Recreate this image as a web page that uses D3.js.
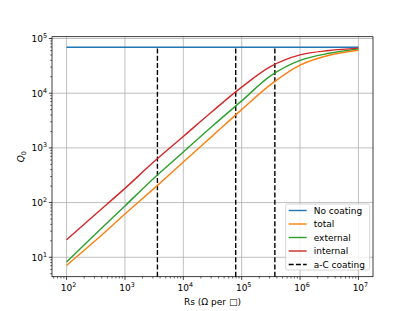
<!DOCTYPE html>
<html>
<head>
  <meta charset="utf-8">
  <script src="https://d3js.org/d3.v7.min.js"></script>
  <style>
    body { margin: 0; background: #fff; font-family: 'DejaVu Sans', sans-serif; }
  </style>
</head>
<body>
<div id="my_dataviz"></div>
<script>
// values
var rs       = [100, 316, 1000, 3162, 10000, 31623, 100000, 316228, 1000000, 3162278, 10000000];
var qTotal   = [7.1, 20.4, 61.7, 182, 550, 1660, 5010, 14500, 32700, 49500, 61000];
var qExt     = [8.2, 27, 87, 282, 841, 2510, 7240, 20900, 39800, 53700, 64600];
var qInt     = [21, 62, 182, 562, 1620, 4680, 12900, 30900, 50100, 60300, 66800];
var noCoatRs = [100, 10000000];
var noCoatQ  = [69000, 69000];
var coatingRs = [3600, 79000, 370000];
var xExp = [2, 3, 4, 5, 6, 7];
var yExp = [1, 2, 3, 4, 5];

var margin = {top: 36.7, right: 42, bottom: 34.3, left: 52},
    W = 415, H = 311,
    width = W - margin.left - margin.right,
    height = H - margin.top - margin.bottom;

var svg = d3.select("#my_dataviz").append("svg")
  .attr("width", W).attr("height", H)
  .append("g")
  .attr("transform", "translate(" + margin.left + "," + margin.top + ")");

var x = d3.scaleLog().domain([Math.pow(10, 1.75), Math.pow(10, 7.25)]).range([0, width]);
var y = d3.scaleLog().domain([Math.pow(10, 0.645), Math.pow(10, 5.033)]).range([height, 0]);

// grid
svg.selectAll(".gx").data(xExp).enter().append("line")
  .attr("x1", d => x(Math.pow(10, d))).attr("x2", d => x(Math.pow(10, d)))
  .attr("y1", 0).attr("y2", height)
  .attr("stroke", "#b0b0b0").attr("stroke-width", 0.8);
svg.selectAll(".gy").data(yExp).enter().append("line")
  .attr("y1", d => y(Math.pow(10, d))).attr("y2", d => y(Math.pow(10, d)))
  .attr("x1", 0).attr("x2", width)
  .attr("stroke", "#b0b0b0").attr("stroke-width", 0.8);

// lines
var line = d3.line()
  .x(function (d) { return x(d[0]); })
  .y(function (d) { return y(d[1]); })
  .curve(d3.curveCatmullRom.alpha(0.5));

var series = [
  {name: "No coating", color: "#1f77b4", xs: noCoatRs, ys: noCoatQ},
  {name: "total", color: "#ff7f0e", xs: rs, ys: qTotal},
  {name: "external", color: "#2ca02c", xs: rs, ys: qExt},
  {name: "internal", color: "#d62728", xs: rs, ys: qInt}
];

var plot = svg.append("g");
plot.append("path").datum(d3.zip(noCoatRs, noCoatQ))
  .attr("d", line).attr("fill", "none").attr("stroke", "#1f77b4").attr("stroke-width", 1.4);

// coating markers
plot.selectAll(".vl").data(coatingRs).enter().append("line")
  .attr("x1", d => x(d)).attr("x2", d => x(d))
  .attr("y1", height).attr("y2", y(noCoatQ[0]))
  .attr("stroke", "#000").attr("stroke-width", 1.4)
  .attr("stroke-dasharray", "5,2.2");

series.slice(1).forEach(function (s) {
  plot.append("path").datum(d3.zip(s.xs, s.ys))
    .attr("d", line).attr("fill", "none")
    .attr("stroke", s.color).attr("stroke-width", 1.4);
});

// minor ticks
var xMinor = [], yMinor = [];
for (var e = 1; e <= 7; e++) for (var m = 2; m <= 9; m++) {
  var v = m * Math.pow(10, e);
  if (v > x.domain()[0] && v < x.domain()[1]) xMinor.push(v);
}
for (var e = 0; e <= 5; e++) for (var m = 2; m <= 9; m++) {
  var v = m * Math.pow(10, e);
  if (v > y.domain()[0] && v < y.domain()[1]) yMinor.push(v);
}
svg.selectAll(".mx").data(xMinor).enter().append("line")
  .attr("x1", d => x(d)).attr("x2", d => x(d))
  .attr("y1", height).attr("y2", height + 1.8)
  .attr("stroke", "#000").attr("stroke-width", 0.6);
svg.selectAll(".my").data(yMinor).enter().append("line")
  .attr("y1", d => y(d)).attr("y2", d => y(d))
  .attr("x1", 0).attr("x2", -1.8)
  .attr("stroke", "#000").attr("stroke-width", 0.6);

// major ticks and labels
svg.selectAll(".tx").data(xExp).enter().append("line")
  .attr("x1", d => x(Math.pow(10, d))).attr("x2", d => x(Math.pow(10, d)))
  .attr("y1", height).attr("y2", height + 3.2)
  .attr("stroke", "#000").attr("stroke-width", 0.75);
svg.selectAll(".ty").data(yExp).enter().append("line")
  .attr("y1", d => y(Math.pow(10, d))).attr("y2", d => y(Math.pow(10, d)))
  .attr("x1", 0).attr("x2", -3.2)
  .attr("stroke", "#000").attr("stroke-width", 0.75);

function powLabel(sel) {
  sel.append("tspan").text("10");
  sel.append("tspan").attr("dy", -4).attr("font-size", 6.4).text(d => d);
}
svg.selectAll(".lx").data(xExp).enter().append("text")
  .attr("x", d => x(Math.pow(10, d)) + 2).attr("y", height + 14)
  .attr("text-anchor", "middle").attr("font-size", 9).attr("fill", "#000")
  .call(powLabel);
svg.selectAll(".ly").data(yExp).enter().append("text")
  .attr("x", -5).attr("y", d => y(Math.pow(10, d)) + 3.5)
  .attr("text-anchor", "end").attr("font-size", 9).attr("fill", "#000")
  .call(powLabel);

// frame
svg.append("rect").attr("width", width).attr("height", height)
  .attr("fill", "none").attr("stroke", "#000").attr("stroke-width", 0.75);

// axis titles
svg.append("text")
  .attr("x", width / 2).attr("y", height + 28)
  .attr("text-anchor", "middle").attr("font-size", 9)
  .text("Rs (\u03A9 per \u25A1)");
var yl = svg.append("text")
  .attr("transform", "translate(" + (-28) + "," + (height / 2) + ") rotate(-90)")
  .attr("text-anchor", "middle").attr("font-size", 9);
yl.append("tspan").attr("font-style", "italic").text("Q");
yl.append("tspan").attr("font-size", 6.4).attr("dy", 2).text("0");

// legend
var lg = svg.append("g").attr("transform", "translate(" + (285.7 - margin.left) + "," + (204 - margin.top) + ")");
lg.append("rect").attr("width", 84).attr("height", 66).attr("rx", 2)
  .attr("fill", "#fff").attr("fill-opacity", 0.8)
  .attr("stroke", "#cccccc").attr("stroke-width", 0.8);
var entries = series.map(s => ({name: s.name, color: s.color, dash: null}))
  .concat([{name: "a-C coating", color: "#000", dash: "5,2.2"}]);
var item = lg.selectAll(".it").data(entries).enter().append("g")
  .attr("transform", (d, i) => "translate(0," + (6.5 + i * 13.5) + ")");
item.append("line").attr("x1", 3).attr("x2", 21)
  .attr("stroke", d => d.color).attr("stroke-width", 1.4)
  .attr("stroke-dasharray", d => d.dash);
item.append("text").attr("x", 28).attr("y", 3.3)
  .attr("font-size", 9).text(d => d.name);
</script>
</body>
</html>
